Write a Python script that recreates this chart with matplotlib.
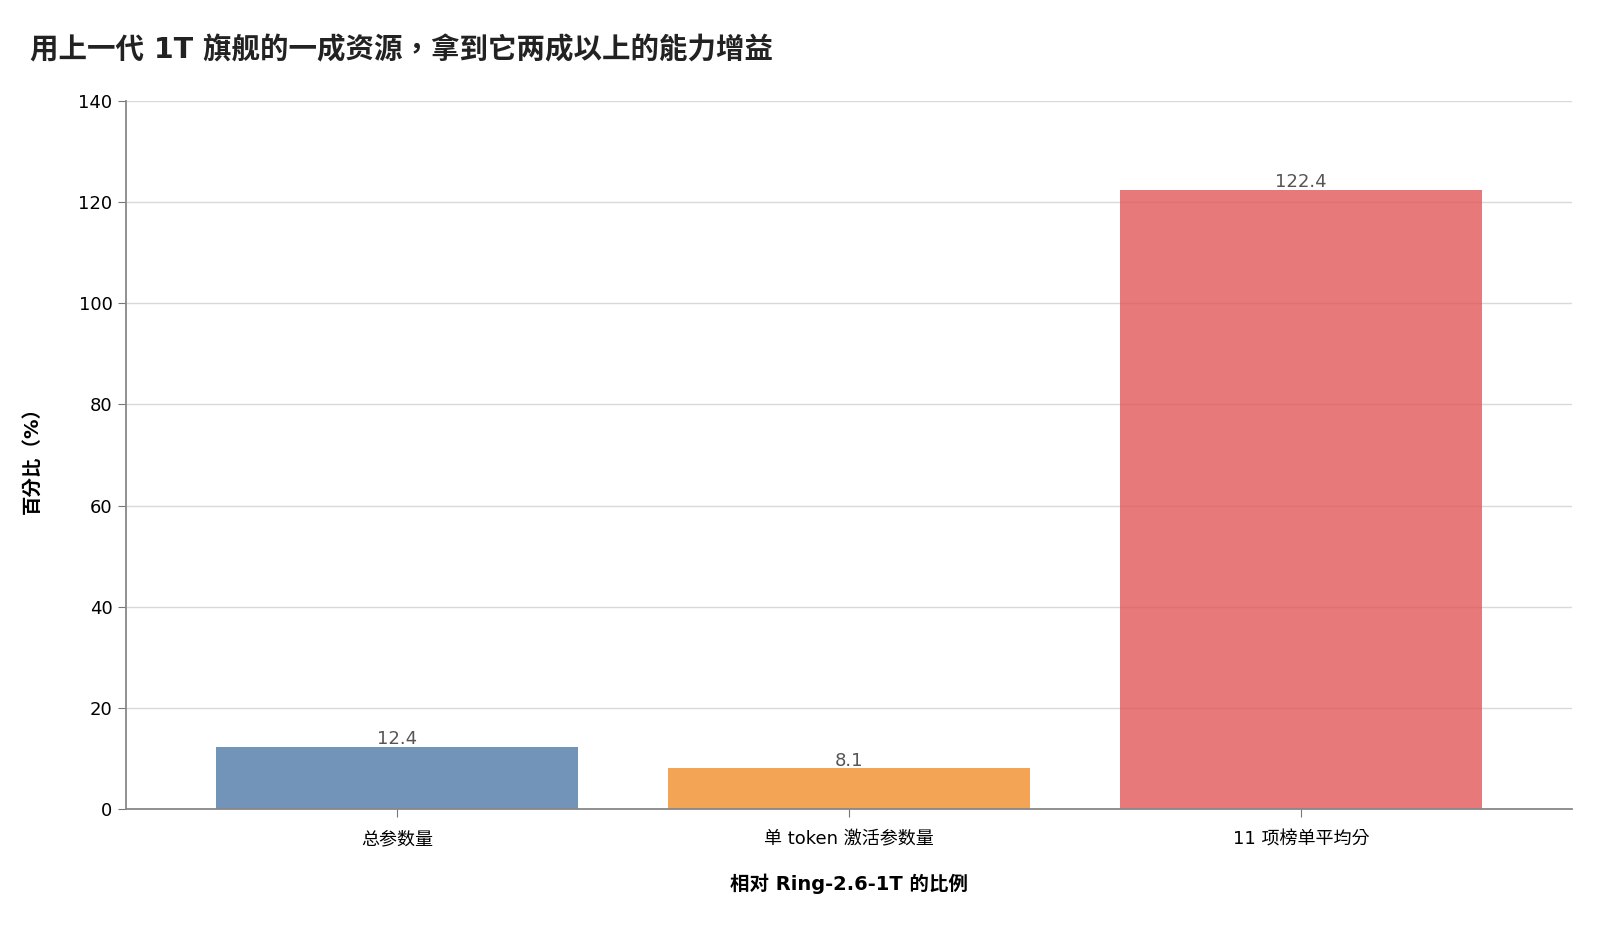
import matplotlib
matplotlib.use("Agg")
import matplotlib.pyplot as plt

plt.rcParams["font.family"] = ["DejaVu Sans", "Noto Sans CJK TC"]

# ── 数据 ────────────────────────────────────────────────
categories = ["总参数量", "单 token 激活参数量", "11 项榜单平均分"]
values = [12.4, 8.1, 122.4]
colors = ["#4E79A7", "#F28E2B", "#E15759"]
yticks = [0, 20, 40, 60, 80, 100, 120, 140]

fig = plt.figure(figsize=(16, 9.25), dpi=100)
ax = fig.add_axes([0.0785, 0.125, 0.904, 0.766])

x = range(len(categories))
bars = ax.bar(x, values, width=0.8, color=colors, alpha=0.8, zorder=2)
for bar, v in zip(bars, values):
    ax.text(bar.get_x() + bar.get_width() / 2, bar.get_height() + 0.5,
            f"{v:.1f}", ha="center", va="baseline", fontsize=13, color="#555555")

ax.set_xlim(-0.6, 2.6)
ax.set_ylim(0, 140)
ax.set_yticks(yticks)
ax.set_xticks(list(x))
ax.set_xticklabels(categories, fontsize=13)
ax.tick_params(axis="y", labelsize=13, color="#777777", length=6)
ax.tick_params(axis="x", color="#777777", length=6, pad=9)
ax.set_axisbelow(True)
ax.grid(axis="y", color="#d9d9d9", linewidth=1.0, zorder=0)
for s in ["top", "right"]:
    ax.spines[s].set_visible(False)
for s in ["left", "bottom"]:
    ax.spines[s].set_color("#888888")
    ax.spines[s].set_linewidth(1.3)
    ax.spines[s].set_zorder(3)

ax.set_ylabel("百分比（%）", fontsize=14, fontweight="bold", labelpad=26)
ax.set_xlabel("相对 Ring-2.6-1T 的比例", fontsize=14, fontweight="bold", labelpad=18)

fig.text(0.019, 0.946, "用上一代 1T 旗舰的一成资源，拿到它两成以上的能力增益",
         fontsize=20.5, fontweight="bold", color="#222222", ha="left", va="center")

fig.savefig("out.png", dpi=100)
